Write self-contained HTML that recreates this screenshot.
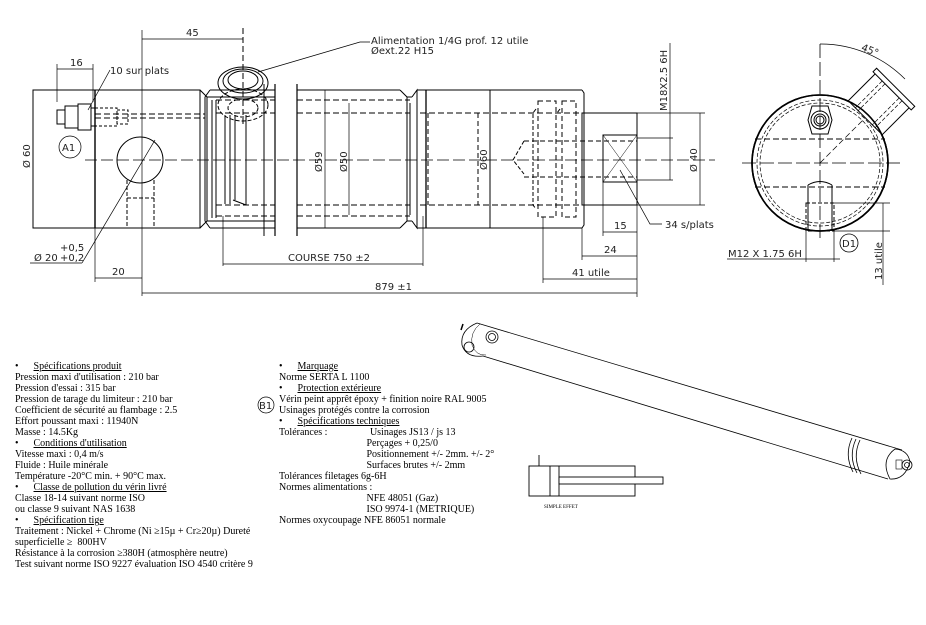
<!DOCTYPE html>
<html><head><meta charset="utf-8"><style>
body{margin:0;background:#fff;width:926px;height:625px;overflow:hidden}
svg{position:absolute;left:0;top:0}
.t{font-family:"DejaVu Sans","Liberation Sans",sans-serif;font-size:10px;fill:#222}
</style></head><body>
<svg width="926" height="625" viewBox="0 0 926 625" fill="none" stroke="#000" stroke-width="1">
<g stroke="#000">
<line x1="85" y1="160" x2="715" y2="160" stroke-dasharray="12,4" stroke-width="0.8"/>
<rect x="33" y="90" width="167" height="138"/>
<line x1="95" y1="90" x2="95" y2="228" stroke-width="1.4"/>
<circle cx="140" cy="160" r="23"/>
<line x1="127" y1="180" x2="127" y2="228" stroke-dasharray="4,2"/>
<line x1="154" y1="180" x2="154" y2="228" stroke-dasharray="4,2"/>
<line x1="127" y1="198" x2="154" y2="198" stroke-dasharray="4,2"/>
<!-- fitting -->
<rect x="57" y="110" width="8" height="14"/>
<rect x="65" y="106" width="13" height="22"/>
<rect x="78" y="104" width="13" height="26"/>
<rect x="91" y="108" width="4" height="18"/>
<rect x="95" y="108" width="22" height="18" stroke-dasharray="3,2"/>
<rect x="117" y="110" width="11" height="14" stroke-dasharray="3,2"/>
<line x1="95" y1="114" x2="205" y2="114" stroke-dasharray="6,3"/>
<line x1="95" y1="118" x2="205" y2="118" stroke-dasharray="6,3"/>
<polyline points="200,90 207,97 207,221 200,228"/>
<line x1="207" y1="97" x2="275" y2="97"/>
<line x1="207" y1="221" x2="275" y2="221"/>
<line x1="210" y1="90" x2="275" y2="90"/>
<line x1="210" y1="228" x2="275" y2="228"/>
<polyline points="210,90 205,97 205,221 210,228"/>
<line x1="212" y1="100" x2="212" y2="218"/>
<line x1="216" y1="100" x2="216" y2="218"/>
<line x1="216" y1="100" x2="275" y2="100" stroke-dasharray="6,3"/>
<line x1="216" y1="113" x2="275" y2="113" stroke-dasharray="6,3"/>
<line x1="216" y1="205" x2="275" y2="205" stroke-dasharray="6,3"/>
<line x1="216" y1="216" x2="275" y2="216" stroke-dasharray="6,3"/>
<line x1="225" y1="115" x2="225" y2="204"/>
<line x1="230" y1="115" x2="230" y2="204"/>
<line x1="235" y1="115" x2="235" y2="200"/>
<line x1="246" y1="115" x2="246" y2="205"/>
<line x1="233" y1="200" x2="246" y2="205"/>
<line x1="264" y1="84" x2="264" y2="236"/>
<line x1="275" y1="84" x2="275" y2="236" stroke-width="1.2"/>
<ellipse cx="243" cy="83" rx="25" ry="16"/>
<ellipse cx="243" cy="81" rx="20" ry="12"/>
<ellipse cx="243" cy="80" rx="15" ry="9"/>
<ellipse cx="243" cy="105" rx="25" ry="16" stroke-dasharray="4,2"/>
<ellipse cx="243" cy="108" rx="15" ry="9" stroke-dasharray="4,2"/>
<line x1="243" y1="28" x2="243" y2="125" stroke-dasharray="6,3"/>
<line x1="297" y1="84" x2="297" y2="236" stroke-width="1.2"/>
<line x1="297" y1="90" x2="400" y2="90"/>
<line x1="297" y1="228" x2="400" y2="228"/>
<line x1="297" y1="100" x2="410" y2="100" stroke-dasharray="6,3"/>
<line x1="297" y1="113" x2="410" y2="113" stroke-dasharray="6,3"/>
<line x1="297" y1="205" x2="410" y2="205" stroke-dasharray="6,3"/>
<line x1="297" y1="216" x2="410" y2="216" stroke-dasharray="6,3"/>
<polyline points="400,90 407,97 407,221 400,228"/>
<line x1="407" y1="97" x2="412" y2="97"/>
<line x1="407" y1="221" x2="412" y2="221"/>
<polyline points="412,97 417,90 417,228 412,221"/>
<line x1="410" y1="103" x2="410" y2="215"/>
<line x1="426" y1="90" x2="426" y2="228" stroke-width="1.3"/>
<line x1="430" y1="90" x2="582" y2="90"/>
<line x1="430" y1="228" x2="582" y2="228"/>
<line x1="417" y1="90" x2="430" y2="90"/>
<line x1="417" y1="228" x2="430" y2="228"/>
<polyline points="582,90 584,93 584,225 582,228"/>
<line x1="490" y1="90" x2="490" y2="228"/>
<line x1="420" y1="113" x2="582" y2="113" stroke-dasharray="6,3"/>
<line x1="420" y1="205" x2="582" y2="205" stroke-dasharray="6,3"/>
<line x1="478" y1="113" x2="478" y2="205" stroke-dasharray="5,3"/>
<line x1="428" y1="113" x2="428" y2="205" stroke-dasharray="5,3"/>
<rect x="538" y="101" width="18" height="116" stroke-dasharray="5,3"/>
<rect x="562" y="101" width="14" height="116" stroke-dasharray="5,3"/>
<polyline points="536,109 533,113 533,205 536,209" stroke-dasharray="4,2"/>
<polyline points="560,109 557,113" stroke-dasharray="4,2"/>
<polyline points="524,141 513,160 524,174" stroke-dasharray="4,2"/>
<line x1="524" y1="141" x2="637" y2="141" stroke-dasharray="5,3"/>
<line x1="524" y1="177" x2="637" y2="177" stroke-dasharray="5,3"/>
<rect x="582" y="113" width="55" height="92"/>
<rect x="603" y="135" width="34" height="47"/>
<line x1="603" y1="135" x2="637" y2="182" stroke-width="0.5"/>
<line x1="637" y1="135" x2="603" y2="182" stroke-width="0.5"/>
</g>
<g stroke-width="0.7">
<line x1="142" y1="30" x2="142" y2="296"/>
<line x1="142" y1="39" x2="243" y2="39"/>
<text class="t" x="186" y="36" stroke="none">45</text>
<line x1="57" y1="64" x2="57" y2="102"/>
<line x1="93" y1="64" x2="93" y2="102"/>
<line x1="57" y1="69" x2="93" y2="69"/>
<text class="t" x="70" y="66" stroke="none">16</text>
<line x1="110" y1="70" x2="88" y2="110"/>
<text class="t" x="110" y="74" stroke="none">10 sur plats</text>
<line x1="33" y1="90" x2="33" y2="228"/>
<text class="t" transform="translate(30,168) rotate(-90)" stroke="none">Ø 60</text>
<circle cx="70" cy="147" r="11"/>
<text class="t" x="62" y="151" stroke="none">A1</text>
<line x1="30" y1="263" x2="82" y2="263"/>
<line x1="82" y1="263" x2="155" y2="140"/>
<text class="t" x="34" y="261" stroke="none">Ø 20</text>
<text class="t" x="60" y="251" stroke="none" font-size="7">+0,5</text>
<text class="t" x="60" y="261" stroke="none" font-size="7">+0,2</text>
<line x1="95" y1="228" x2="95" y2="282"/>
<line x1="95" y1="278" x2="142" y2="278"/>
<text class="t" x="112" y="275" stroke="none">20</text>
<line x1="325" y1="90" x2="325" y2="228"/>
<line x1="349" y1="103" x2="349" y2="215"/>
<text class="t" transform="translate(322,172) rotate(-90)" stroke="none">Ø59</text>
<text class="t" transform="translate(347,172) rotate(-90)" stroke="none">Ø50</text>
<text class="t" transform="translate(487,170) rotate(-90)" stroke="none">Ø60</text>
<line x1="223" y1="216" x2="223" y2="266"/>
<line x1="423" y1="216" x2="423" y2="266"/>
<line x1="223" y1="264" x2="423" y2="264"/>
<text class="t" x="288" y="261" stroke="none">COURSE 750 ±2</text>
<line x1="142" y1="293" x2="637" y2="293"/>
<line x1="637" y1="205" x2="637" y2="297"/>
<text class="t" x="375" y="290" stroke="none">879 ±1</text>
<line x1="603" y1="182" x2="603" y2="236"/>
<line x1="603" y1="232" x2="637" y2="232"/>
<text class="t" x="614" y="229" stroke="none">15</text>
<line x1="582" y1="228" x2="582" y2="260"/>
<line x1="582" y1="256" x2="637" y2="256"/>
<text class="t" x="604" y="253" stroke="none">24</text>
<line x1="543" y1="217" x2="543" y2="283"/>
<line x1="543" y1="279" x2="637" y2="279"/>
<text class="t" x="572" y="276" stroke="none">41 utile</text>
<polyline points="620,170 650,224 662,224"/>
<text class="t" x="665" y="228" stroke="none">34 s/plats</text>
<line x1="637" y1="113" x2="705" y2="113"/>
<line x1="637" y1="205" x2="705" y2="205"/>
<line x1="700" y1="113" x2="700" y2="205"/>
<text class="t" transform="translate(697,172) rotate(-90)" stroke="none">Ø 40</text>
<line x1="637" y1="138" x2="673" y2="138"/>
<line x1="637" y1="180" x2="673" y2="180"/>
<line x1="670" y1="43" x2="670" y2="180"/>
<text class="t" transform="translate(667,111) rotate(-90)" stroke="none">M18X2.5  6H</text>
<polyline points="258,72 360,42 370,42"/>
<text class="t" x="371" y="44" stroke="none">Alimentation 1/4G prof. 12 utile</text>
<text class="t" x="371" y="54" stroke="none">Øext.22 H15</text>
</g>
<g>
<circle cx="820" cy="163" r="68" stroke-width="1.6"/>
<circle cx="820" cy="163" r="63" stroke-dasharray="4,2" stroke-width="0.7"/>
<circle cx="820" cy="163" r="60" stroke-dasharray="4,2" stroke-width="0.7"/>
<line x1="742" y1="163" x2="900" y2="163" stroke-dasharray="14,4" stroke-width="0.8"/>
<line x1="820" y1="44" x2="820" y2="240" stroke-dasharray="14,4" stroke-width="0.8"/>
<line x1="755" y1="139" x2="885" y2="139" stroke-dasharray="6,3"/>
<line x1="755" y1="187" x2="885" y2="187" stroke-dasharray="6,3"/>
<line x1="820" y1="163" x2="885" y2="98" stroke-dasharray="6,3" stroke-width="0.7"/>
<g transform="translate(820,163) rotate(45)">
<rect x="-24" y="-104" width="48" height="40" fill="#fff"/>
<rect x="-27" y="-107" width="54" height="5" fill="#fff"/>
<line x1="-10" y1="-102" x2="-10" y2="-64" stroke-dasharray="4,2" stroke-width="0.7"/>
<line x1="10" y1="-102" x2="10" y2="-64" stroke-dasharray="4,2" stroke-width="0.7"/>
<line x1="-14" y1="-102" x2="-14" y2="-64" stroke-dasharray="4,2" stroke-width="0.7"/>
<line x1="14" y1="-102" x2="14" y2="-64" stroke-dasharray="4,2" stroke-width="0.7"/>
</g>
<circle cx="820" cy="163" r="68" stroke-width="1.6"/>
<polygon points="812,106 828,106 832,120 828,134 812,134 808,120"/>
<circle cx="820" cy="120" r="9"/>
<circle cx="820" cy="120" r="6"/>
<circle cx="820" cy="120" r="4"/>
<path d="M808,185 Q820,178 832,185"/>
<line x1="808" y1="185" x2="808" y2="231"/>
<line x1="832" y1="185" x2="832" y2="231"/>
<rect x="806" y="203" width="28" height="28" stroke-dasharray="4,2"/>
<path d="M820,44 A119,119 0 0 1 905,79" stroke-width="0.7"/>
<text class="t" x="861" y="52" transform="rotate(22 866 50)" stroke="none">45°</text>
<g stroke-width="0.7">
<line x1="834" y1="203" x2="890" y2="203"/>
<line x1="834" y1="231" x2="890" y2="231"/>
<line x1="883" y1="203" x2="883" y2="285"/>
<line x1="806" y1="231" x2="806" y2="262"/>
<line x1="834" y1="231" x2="834" y2="262"/>
<line x1="727" y1="259" x2="840" y2="259"/>
</g>
<text class="t" x="728" y="257" stroke="none">M12 X 1.75 6H</text>
<circle cx="849" cy="243" r="9" stroke-width="0.8"/>
<text class="t" x="842" y="247" stroke="none" font-size="9">D1</text>
<text class="t" transform="translate(882,280) rotate(-90)" stroke="none" fill="#555">13 utile</text>
</g>
<g stroke-width="0.8">
<line x1="477" y1="323" x2="902" y2="450"/>
<line x1="483" y1="356" x2="888" y2="479"/>
<path d="M477,323 Q460,330 462,345 Q466,358 483,356"/>
<path d="M480,324 Q470,332 472,345 Q476,356 486,355" stroke-width="0.5"/>
<circle cx="469" cy="347" r="5"/>
<circle cx="492" cy="337" r="6"/>
<circle cx="492" cy="337" r="3.5"/>
<line x1="461" y1="330" x2="463" y2="324" stroke-width="1.5"/>
<path d="M852,438 Q844,455 853,472"/>
<path d="M856,439 Q848,456 857,473"/>
<path d="M860,440 Q852,457 861,474"/>
<path d="M895,449 Q880,460 890,479 Q905,480 910,462 Q908,450 895,449"/>
<circle cx="907" cy="465" r="5"/>
<circle cx="907" cy="465" r="2.5"/>
<rect x="896" y="460" width="6" height="9" stroke-width="0.6"/>
</g>
<g stroke-width="0.9">
<rect x="529" y="466" width="106" height="30"/>
<line x1="550" y1="466" x2="550" y2="496"/>
<line x1="559" y1="466" x2="559" y2="496"/>
<rect x="559" y="477" width="104" height="7" fill="#fff"/>
<line x1="539" y1="455" x2="539" y2="466"/>
</g>
<text x="544" y="508" font-family="Liberation Serif,serif" font-size="5" fill="#000" stroke="none">SIMPLE EFFET</text>
<circle cx="266" cy="405" r="8" stroke-width="0.7"/>
<text class="t" x="259" y="409" stroke="none" font-size="9">B1</text>
</svg>
<div style="position:absolute;left:15px;top:361px;font-family:'Liberation Serif',serif;font-size:10px;line-height:11px;color:#000;white-space:pre">•      <u>Spécifications produit</u>
Pression maxi d'utilisation : 210 bar
Pression d'essai : 315 bar
Pression de tarage du limiteur : 210 bar
Coefficient de sécurité au flambage : 2.5
Effort poussant maxi : 11940N
Masse : 14.5Kg
•      <u>Conditions d'utilisation</u>
Vitesse maxi : 0,4 m/s
Fluide : Huile minérale
Température -20°C min. + 90°C max.
•      <u>Classe de pollution du vérin livré</u>
Classe 18-14 suivant norme ISO
ou classe 9 suivant NAS 1638
•      <u>Spécification tige</u>
Traitement : Nickel + Chrome (Ni ≥15µ + Cr≥20µ) Dureté
superficielle ≥  800HV
Résistance à la corrosion ≥380H (atmosphère neutre)
Test suivant norme ISO 9227 évaluation ISO 4540 critère 9</div>
<div style="position:absolute;left:279px;top:361px;font-family:'Liberation Serif',serif;font-size:10px;line-height:11px;color:#000;white-space:pre">•      <u>Marquage</u>
Norme SERTA L 1100
•      <u>Protection extérieure</u>
Vérin peint apprêt époxy + finition noire RAL 9005
Usinages protégés contre la corrosion
•      <u>Spécifications techniques</u>
Tolérances :                 Usinages JS13 / js 13
                                   Perçages + 0,25/0
                                   Positionnement +/- 2mm. +/- 2°
                                   Surfaces brutes +/- 2mm
Tolérances filetages 6g-6H
Normes alimentations :
                                   NFE 48051 (Gaz)
                                   ISO 9974-1 (METRIQUE)
Normes oxycoupage NFE 86051 normale</div>
</body></html>
